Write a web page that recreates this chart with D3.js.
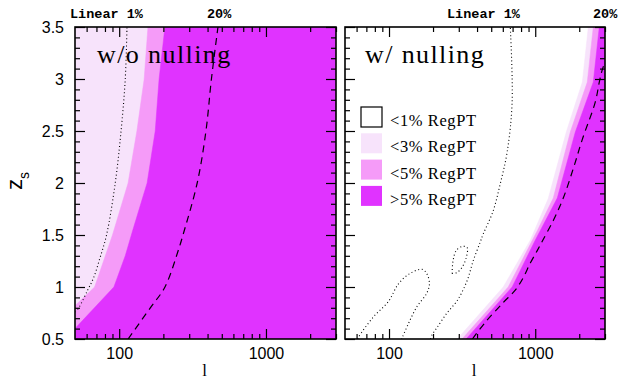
<!DOCTYPE html>
<html><head><meta charset="utf-8">
<script src="https://cdn.jsdelivr.net/npm/d3@7"></script>
<style>body{margin:0;background:#fff}svg{display:block}</style>
</head><body>
<svg id="c" width="629" height="381"></svg>
<script>
// ---------- data ----------
const lDomain = [50, 3000];
const zDomain = [0.5, 3.5];
const xMajor = [100, 1000];
const xMinor = [60, 70, 80, 90, 200, 300, 400, 500, 600, 700, 800, 900, 2000, 3000];
const yMajor = [0.5, 1, 1.5, 2, 2.5, 3, 3.5];
const yMinor = [0.6,0.7,0.8,0.9,1.1,1.2,1.3,1.4,1.6,1.7,1.8,1.9,2.1,2.2,2.3,2.4,2.6,2.7,2.8,2.9,3.1,3.2,3.3,3.4];
const legendLabels = ["<1% RegPT", "<3% RegPT", "<5% RegPT", ">5% RegPT"];
const topLabels = ["Linear 1%", "20%"];
const panelTitles = ["w/o nulling", "w/ nulling"];

// w/o nulling: region boundaries [l, z]
const noNullLt5 = [[50,0.5],[50,0.82],[68,1.0],[90,1.5],[115,2.0],[132,2.5],[148,3.0],[157,3.5]];
const noNullGt5 = [[50,0.5],[50,0.6],[92,1.0],[110,1.3],[124,1.55],[155,2.0],[176,2.5],[187,3.0],[205,3.5]];
const noNullLin1 = [[50,0.76],[53,0.8],[61,0.97],[67,1.09],[74,1.28],[82,1.5],[94,2.0],[103,2.5],[110,3.0],[113,3.5]];
const noNull20 = [[115,0.5],[163,0.8],[205,1.0],[255,1.37],[272,1.5],[340,2.0],[390,2.5],[425,3.0],[471,3.5]];

// w/ nulling
const nullLt3 = [[293,0.5],[604,1.0],[925,1.45],[1227,1.85],[1630,2.49],[2100,2.97],[2306,3.5]];
const nullLt5 = [[316,0.5],[653,1.0],[1032,1.54],[1328,1.855],[1737,2.49],[2270,2.97],[2495,3.5]];
const nullGt5 = [[337,0.5],[695,1.0],[1000,1.45],[1415,1.855],[1880,2.49],[2495,2.97],[2742,3.5]];
const nullLin1Main = [[192,0.5],[197,0.54],[213,0.61],[249,0.75],[293,0.87],[342,1.06],[376,1.25],[420,1.43],[441,1.51],[515,1.73],[576,1.99],[643,2.3],[695,2.78],[675,3.5]];
const nullLin1LoopA = [[61,0.5],[62,0.52],[78,0.71],[99,0.86],[116,1.03],[139,1.13],[168,1.17],[181,1.13],[189,1.03],[181,0.94],[155,0.81],[136,0.65],[122,0.5]];
const nullLin1LoopB = [[270,1.13],[274,1.25],[288,1.35],[316,1.39],[342,1.38],[337,1.28],[316,1.19],[292,1.14],[270,1.13]];
const null20 = [[372,0.5],[455,0.66],[604,0.85],[730,0.97],[828,1.09],[925,1.23],[1032,1.35],[1117,1.44],[1329,1.64],[1555,1.855],[1822,2.14],[2099,2.42],[2576,2.78],[2742,2.97],[2876,3.09],[3000,3.16]];

// ---------- style ----------
const C_LIGHT = "#f7e3fb", C_MID = "#f59bf8", C_DARK = "#e033ff";
const legendColors = ["#ffffff", C_LIGHT, C_MID, C_DARK];

const svg = d3.select("#c");
const yTop = 27, yBot = 339;
const y = d3.scaleLinear().domain(zDomain).range([yBot, yTop]);

const panels = [
  {x0: 75, x1: 336, bg: C_LIGHT, regions: [[noNullLt5, C_MID], [noNullGt5, C_DARK]],
   dotted: [noNullLin1], dashed: [noNull20], yLabels: true, title: panelTitles[0],
   titleX: 97, labelPos: [[70, topLabels[0]], [207, topLabels[1]]], id: "p0"},
  {x0: 345, x1: 605, bg: "#ffffff", regions: [[nullLt3, C_LIGHT], [nullLt5, C_MID], [nullGt5, C_DARK]],
   dotted: [nullLin1Main, nullLin1LoopA, nullLin1LoopB], dashed: [null20], yLabels: false, title: panelTitles[1],
   titleX: 365, labelPos: [[447, topLabels[0]], [593, topLabels[1]]], id: "p1"}
];

const defs = svg.append("defs");

panels.forEach(p => {
  const x = d3.scaleLog().domain(lDomain).range([p.x0, p.x1]);
  defs.append("clipPath").attr("id", "clip" + p.id)
    .append("rect").attr("x", p.x0).attr("y", yTop).attr("width", p.x1 - p.x0).attr("height", yBot - yTop);
  const g = svg.append("g").attr("clip-path", `url(#clip${p.id})`);
  g.append("rect").attr("x", x(lDomain[0])).attr("y", y(zDomain[1]))
    .attr("width", x(lDomain[1]) - x(lDomain[0])).attr("height", y(zDomain[0]) - y(zDomain[1]))
    .attr("fill", p.bg);
  const area = d3.area().y(d => y(d[1])).x0(d => x(d[0])).x1(() => x(lDomain[1]) + 2);
  p.regions.forEach(([data, col]) => {
    g.append("path").attr("d", area(data)).attr("fill", col).attr("stroke", col).attr("stroke-width", 0.5);
  });
  const line = d3.line().x(d => x(d[0])).y(d => y(d[1])).curve(d3.curveCatmullRom.alpha(0.5));
  p.dotted.forEach(data => {
    g.append("path").attr("d", line(data)).attr("fill", "none").attr("stroke", "#000")
      .attr("stroke-width", 1.1).attr("stroke-dasharray", "1 2.6");
  });
  p.dashed.forEach(data => {
    g.append("path").attr("d", line(data)).attr("fill", "none").attr("stroke", "#000")
      .attr("stroke-width", 1.2).attr("stroke-dasharray", "7 5");
  });

  const strip = sel => sel.call(s => s.select(".domain").remove());
  const tickStyle = sel => sel.selectAll("line").attr("stroke", "#000").attr("stroke-width", 1.2);
  const labelStyle = s => s.selectAll("text").attr("font-family", "Liberation Sans, Arial, sans-serif").attr("font-size", 16).attr("fill", "#000");
  // bottom
  svg.append("g").attr("transform", `translate(0,${yBot})`)
    .call(d3.axisBottom(x).tickValues(xMajor).tickSizeInner(-10).tickSizeOuter(0).tickPadding(9).tickFormat(d3.format("d")))
    .call(strip).call(tickStyle).call(labelStyle);
  svg.append("g").attr("transform", `translate(0,${yBot})`)
    .call(d3.axisBottom(x).tickValues(xMinor).tickSizeInner(-5).tickSizeOuter(0).tickFormat(""))
    .call(strip).call(tickStyle);
  // top
  svg.append("g").attr("transform", `translate(0,${yTop})`)
    .call(d3.axisTop(x).tickValues(xMajor).tickSizeInner(-10).tickSizeOuter(0).tickFormat(""))
    .call(strip).call(tickStyle);
  svg.append("g").attr("transform", `translate(0,${yTop})`)
    .call(d3.axisTop(x).tickValues(xMinor).tickSizeInner(-5).tickSizeOuter(0).tickFormat(""))
    .call(strip).call(tickStyle);
  // left
  svg.append("g").attr("transform", `translate(${p.x0},0)`)
    .call(d3.axisLeft(y).tickValues(yMajor).tickSizeInner(-10).tickSizeOuter(0).tickPadding(11)
      .tickFormat(p.yLabels ? (d => String(d)) : ""))
    .call(strip).call(tickStyle).call(labelStyle);
  svg.append("g").attr("transform", `translate(${p.x0},0)`)
    .call(d3.axisLeft(y).tickValues(yMinor).tickSizeInner(-5).tickSizeOuter(0).tickFormat(""))
    .call(strip).call(tickStyle);
  // right
  svg.append("g").attr("transform", `translate(${p.x1},0)`)
    .call(d3.axisRight(y).tickValues(yMajor).tickSizeInner(-10).tickSizeOuter(0).tickFormat(""))
    .call(strip).call(tickStyle);
  svg.append("g").attr("transform", `translate(${p.x1},0)`)
    .call(d3.axisRight(y).tickValues(yMinor).tickSizeInner(-5).tickSizeOuter(0).tickFormat(""))
    .call(strip).call(tickStyle);

  // frame
  svg.append("rect").attr("x", p.x0).attr("y", yTop).attr("width", p.x1 - p.x0).attr("height", yBot - yTop)
    .attr("fill", "none").attr("stroke", "#000").attr("stroke-width", 1.6);

  // title
  svg.append("text").attr("x", p.titleX).attr("y", 63).text(p.title)
    .attr("font-family", "Liberation Serif, Times New Roman, serif").attr("font-size", 26)
    .attr("letter-spacing", 1.4).attr("fill", "#000");

  // top labels
  p.labelPos.forEach(([lx, t]) => {
    svg.append("text").attr("x", lx).attr("y", 18).text(t)
      .attr("font-family", "Liberation Mono, Courier New, monospace").attr("font-weight", "bold")
      .attr("font-size", 13.5).attr("fill", "#000");
  });

  // x axis label
  svg.append("text").attr("x", (p.x0 + p.x1) / 2 - 1).attr("y", 376).attr("text-anchor", "middle")
    .text("l").attr("font-family", "Liberation Serif, Times New Roman, serif").attr("font-size", 17).attr("fill", "#000");
});

// y label
const yl = svg.append("text").attr("transform", "translate(22,190) rotate(-90)")
  .attr("font-family", "Liberation Sans, Arial, sans-serif").attr("font-size", 22).attr("fill", "#000");
yl.append("tspan").text("z");
yl.append("tspan").text("s").attr("font-size", 14).attr("dy", 7);

// legend
const lg = svg.append("g").attr("transform", "translate(361,107)");
legendLabels.forEach((t, i) => {
  const row = lg.append("g").attr("transform", `translate(0,${i * 26.3})`);
  row.append("rect").attr("x", 0).attr("y", 0).attr("width", 21).attr("height", 20)
    .attr("fill", legendColors[i]).attr("stroke", i === 0 ? "#000" : "none").attr("stroke-width", 1.2);
  row.append("text").attr("x", 29).attr("y", 19).text(t)
    .attr("font-family", "Liberation Serif, Times New Roman, serif").attr("font-size", 16.5)
    .attr("letter-spacing", 0.6).attr("fill", "#000");
});
</script>
</body></html>
